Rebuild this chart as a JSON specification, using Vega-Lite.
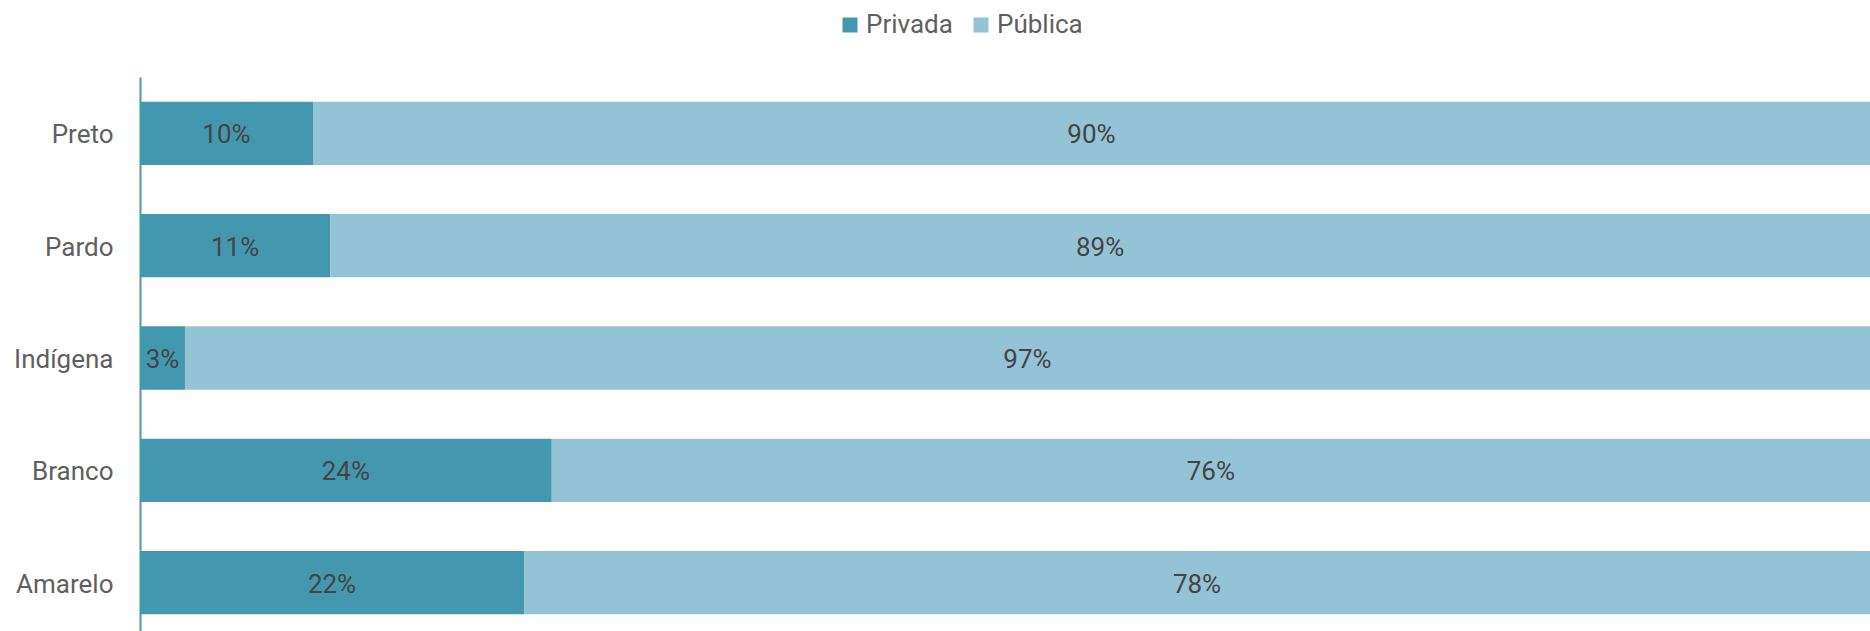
{
  "$schema": "https://vega.github.io/schema/vega-lite/v6.json",
  "autosize": {"type": "none"},
  "padding": {"left": 140, "top": 77, "right": 0, "bottom": 0},
  "width": 1730,
  "height": 562,
  "background": "white",
  "config": {"view": {"stroke": null}, "font": "Roboto"},
  "data": {"values": [
    {"raca": "Preto", "tipo": "Privada", "v": 0.10},
    {"raca": "Preto", "tipo": "Pública", "v": 0.90},
    {"raca": "Pardo", "tipo": "Privada", "v": 0.11},
    {"raca": "Pardo", "tipo": "Pública", "v": 0.89},
    {"raca": "Indígena", "tipo": "Privada", "v": 0.026},
    {"raca": "Indígena", "tipo": "Pública", "v": 0.974},
    {"raca": "Branco", "tipo": "Privada", "v": 0.238},
    {"raca": "Branco", "tipo": "Pública", "v": 0.762},
    {"raca": "Amarelo", "tipo": "Privada", "v": 0.222},
    {"raca": "Amarelo", "tipo": "Pública", "v": 0.778}
  ]},
  "transform": [
    {"stack": "v", "groupby": ["raca"], "sort": [{"field": "tipo", "order": "ascending"}], "as": ["v0", "v1"]},
    {"calculate": "(datum.v0 + datum.v1) / 2", "as": "mid"}
  ],
  "encoding": {
    "y": {"field": "raca", "type": "nominal", "sort": ["Preto", "Pardo", "Indígena", "Branco", "Amarelo"],
      "scale": {"paddingInner": 0.436, "paddingOuter": 0.22},
      "axis": {"title": null, "ticks": false, "domainColor": "#4a9ab2", "domainWidth": 2, "labelFontSize": 26, "labelColor": "#5f5f5f", "labelPadding": 27, "labelOffset": 2}}
  },
  "layer": [
    {
      "mark": {"type": "bar"},
      "encoding": {
        "x": {"field": "v0", "type": "quantitative", "scale": {"domain": [0, 1]}, "axis": null},
        "x2": {"field": "v1"},
        "color": {"field": "tipo", "type": "nominal",
          "scale": {"domain": ["Privada", "Pública"], "range": ["#4398b0", "#93c3d5"]},
          "legend": {"title": null, "orient": "none", "direction": "horizontal", "legendX": 697, "legendY": -65,
            "symbolType": "square", "symbolSize": 225, "symbolStrokeWidth": 0, "labelFontSize": 26, "labelColor": "#5f5f5f", "columnPadding": 15, "labelOffset": 3, "padding": 0}}
      }
    },
    {
      "mark": {"type": "text", "fontSize": 26, "color": "#444444", "baseline": "middle", "dy": 2},
      "encoding": {
        "x": {"field": "mid", "type": "quantitative"},
        "text": {"field": "v", "type": "quantitative", "format": ".0%"}
      }
    }
  ]
}
